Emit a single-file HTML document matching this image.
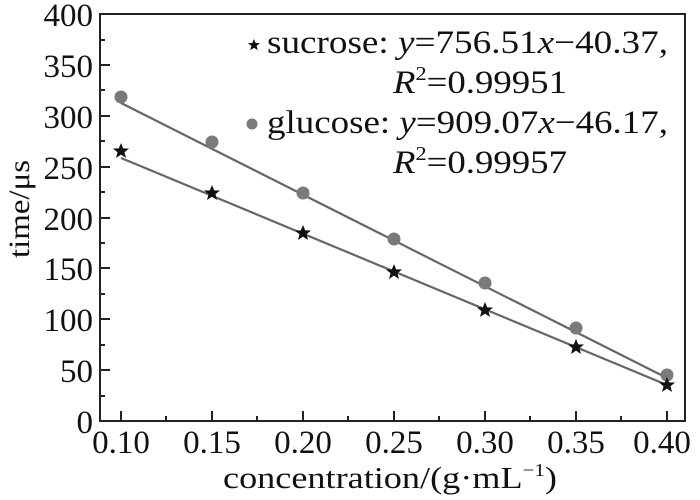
<!DOCTYPE html>
<html><head><meta charset="utf-8"><style>body{margin:0;background:#fff}svg{display:block}text{font-family:"Liberation Serif",serif;fill:#111}</style></head>
<body>
<svg width="700" height="500" viewBox="0 0 700 500" xmlns="http://www.w3.org/2000/svg">
<defs>
<path id="st" d="M0,-8 L2.2,-2.6 8,-2.5 3.5,1.2 5,7 0,3.6 -5,7 -3.5,1.2 -8,-2.5 -2.2,-2.6Z" fill="#111"/>
</defs>
<rect x="100" y="14" width="585" height="407" fill="none" stroke="#222" stroke-width="2"/>
<g stroke="#222" stroke-width="2">
<line x1="100" y1="421" x2="110" y2="421"/><line x1="100" y1="370" x2="110" y2="370"/><line x1="100" y1="319" x2="110" y2="319"/><line x1="100" y1="268" x2="110" y2="268"/><line x1="100" y1="218" x2="110" y2="218"/><line x1="100" y1="167" x2="110" y2="167"/><line x1="100" y1="116" x2="110" y2="116"/><line x1="100" y1="65" x2="110" y2="65"/>
<line x1="100" y1="396" x2="105" y2="396"/><line x1="100" y1="345" x2="105" y2="345"/><line x1="100" y1="294" x2="105" y2="294"/><line x1="100" y1="243" x2="105" y2="243"/><line x1="100" y1="192" x2="105" y2="192"/><line x1="100" y1="141" x2="105" y2="141"/><line x1="100" y1="90" x2="105" y2="90"/><line x1="100" y1="40" x2="105" y2="40"/>
<line x1="121" y1="421" x2="121" y2="411"/><line x1="212" y1="421" x2="212" y2="411"/><line x1="303" y1="421" x2="303" y2="411"/><line x1="394" y1="421" x2="394" y2="411"/><line x1="485" y1="421" x2="485" y2="411"/><line x1="576" y1="421" x2="576" y2="411"/><line x1="667" y1="421" x2="667" y2="411"/>
<line x1="166" y1="421" x2="166" y2="416"/><line x1="257" y1="421" x2="257" y2="416"/><line x1="348" y1="421" x2="348" y2="416"/><line x1="439" y1="421" x2="439" y2="416"/><line x1="530" y1="421" x2="530" y2="416"/><line x1="621" y1="421" x2="621" y2="416"/>
</g>
<g font-size="33" text-anchor="end">
<text x="93" y="433">0</text><text x="93" y="382">50</text><text x="93" y="331">100</text><text x="93" y="280">150</text><text x="93" y="230">200</text><text x="93" y="179">250</text><text x="93" y="128">300</text><text x="93" y="77">350</text><text x="93" y="26">400</text>
</g>
<g font-size="33" text-anchor="middle">
<text x="121" y="453">0.10</text><text x="212" y="453">0.15</text><text x="303" y="453">0.20</text><text x="394" y="453">0.25</text><text x="485" y="453">0.30</text><text x="576" y="453">0.35</text><text x="662" y="453">0.40</text>
</g>
<text x="223" y="488" font-size="31" textLength="334" lengthAdjust="spacingAndGlyphs">concentration/(g·mL<tspan font-size="18" dy="-12">−1</tspan><tspan dy="12">)</tspan></text>
<text transform="translate(29,258) rotate(-90)" font-size="30" textLength="98" lengthAdjust="spacingAndGlyphs">time/μs</text>
<g stroke="#666" stroke-width="2.2" fill="none">
<line x1="121" y1="103" x2="667" y2="378"/>
<line x1="121" y1="158" x2="667" y2="385"/>
</g>
<g fill="#7a7a7a">
<circle cx="121" cy="97" r="6.5"/><circle cx="212" cy="142" r="6.5"/><circle cx="303" cy="193" r="6.5"/><circle cx="394" cy="239" r="6.5"/><circle cx="485" cy="283" r="6.5"/><circle cx="576" cy="328" r="6.5"/><circle cx="667" cy="375" r="6.5"/>
</g>
<use href="#st" x="121" y="151"/><use href="#st" x="212" y="193"/><use href="#st" x="303" y="233"/><use href="#st" x="394" y="272"/><use href="#st" x="485" y="310"/><use href="#st" x="576" y="347"/><use href="#st" x="667" y="385"/>
<path d="M0,-6 L1.7,-2 6,-1.9 2.6,0.9 3.8,5.3 0,2.7 -3.8,5.3 -2.6,0.9 -6,-1.9 -1.7,-2Z" fill="#111" transform="translate(254,45)"/>
<circle cx="252" cy="124" r="5.5" fill="#7a7a7a"/>
<g font-size="33">
<text x="267" y="53" textLength="401" lengthAdjust="spacingAndGlyphs">sucrose: <tspan font-style="italic">y</tspan>=756.51<tspan font-style="italic">x</tspan>−40.37,</text>
<text x="393" y="93" textLength="174" lengthAdjust="spacingAndGlyphs"><tspan font-style="italic">R</tspan><tspan font-size="20" dy="-13">2</tspan><tspan dy="13">=0.99951</tspan></text>
<text x="267" y="133" textLength="401" lengthAdjust="spacingAndGlyphs">glucose: <tspan font-style="italic">y</tspan>=909.07<tspan font-style="italic">x</tspan>−46.17,</text>
<text x="393" y="173" textLength="174" lengthAdjust="spacingAndGlyphs"><tspan font-style="italic">R</tspan><tspan font-size="20" dy="-13">2</tspan><tspan dy="13">=0.99957</tspan></text>
</g>
</svg>
</body></html>
